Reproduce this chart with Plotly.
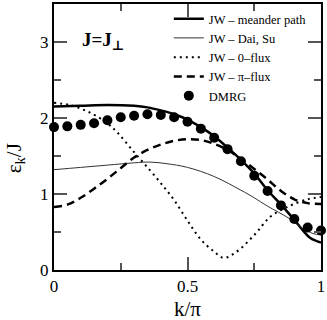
import plotly.graph_objects as go

# JW - meander path (thick solid)
k_meander = [0, 0.1, 0.2, 0.3, 0.35, 0.4, 0.45, 0.5, 0.55, 0.6, 0.65, 0.7,
             0.75, 0.8, 0.85, 0.9, 0.93, 0.96, 1.0]
e_meander = [2.15, 2.16, 2.17, 2.16, 2.14, 2.10, 2.05, 1.98, 1.88, 1.76, 1.61, 1.45,
             1.27, 1.05, 0.86, 0.66, 0.53, 0.42, 0.36]

# JW - Dai, Su (thin solid)
k_daisu = [0, 0.1, 0.2, 0.3, 0.36, 0.42, 0.5, 0.6, 0.7, 0.75, 0.8, 0.88, 0.93, 0.97, 1.0]
e_daisu = [1.32, 1.35, 1.38, 1.41, 1.42, 1.40, 1.35, 1.23, 1.05, 0.95, 0.84, 0.68, 0.55, 0.48, 0.46]

# JW - 0-flux (dotted)
k_zero = [0, 0.06, 0.135, 0.2, 0.24, 0.3, 0.36, 0.41, 0.45, 0.5, 0.55, 0.6, 0.635,
          0.68, 0.75, 0.81, 0.88, 0.95, 1.0]
e_zero = [2.20, 2.17, 2.07, 1.93, 1.80, 1.55, 1.31, 1.10, 0.92, 0.65, 0.40, 0.24, 0.16,
          0.23, 0.46, 0.70, 0.84, 0.93, 0.96]

# JW - pi-flux (dashed)
k_pi = [0, 0.05, 0.1, 0.15, 0.2, 0.25, 0.3, 0.35, 0.4, 0.45, 0.5, 0.55, 0.6, 0.65,
        0.7, 0.75, 0.8, 0.85, 0.9, 0.95, 1.0]
e_pi = [0.83, 0.86, 0.95, 1.07, 1.20, 1.34, 1.48, 1.58, 1.65, 1.70, 1.72, 1.71, 1.66, 1.58,
        1.46, 1.33, 1.19, 1.04, 0.93, 0.88, 0.87]

# DMRG points
k_dmrg = [0, 0.05, 0.1, 0.15, 0.2, 0.25, 0.3, 0.35, 0.4, 0.45, 0.5, 0.55, 0.6, 0.65,
          0.7, 0.75, 0.8, 0.85, 0.9, 0.95, 1.0]
e_dmrg = [1.88, 1.89, 1.91, 1.93, 1.97, 2.01, 2.03, 2.05, 2.04, 2.01, 1.95, 1.86, 1.74, 1.59,
          1.43, 1.24, 1.04, 0.85, 0.67, 0.56, 0.52]

FONT = 'Liberation Serif, DejaVu Serif, Times New Roman, serif'

fig = go.Figure()
fig.add_trace(go.Scatter(x=k_meander, y=e_meander, mode='lines', name='JW \u2013 meander path',
                         line=dict(color='black', width=2.5, shape='spline')))
fig.add_trace(go.Scatter(x=k_daisu, y=e_daisu, mode='lines', name='JW \u2013 Dai, Su',
                         line=dict(color='#333333', width=1, shape='spline')))
fig.add_trace(go.Scatter(x=k_zero, y=e_zero, mode='lines', name='JW \u2013 0\u2013flux',
                         line=dict(color='black', width=2, dash='2px,4px', shape='spline')))
fig.add_trace(go.Scatter(x=k_pi, y=e_pi, mode='lines', name='JW \u2013 \u03c0\u2013flux',
                         line=dict(color='black', width=2.5, dash='8px,5px', shape='spline')))
fig.add_trace(go.Scatter(x=k_dmrg, y=e_dmrg, mode='markers', name='DMRG',
                         marker=dict(color='black', size=10), cliponaxis=False))

axis_common = dict(
    showgrid=False, zeroline=False,
    showline=True, linecolor='black', linewidth=2, mirror='ticks',
    ticks='inside', ticklen=13, tickwidth=1.5, tickcolor='#555555',
    tickfont=dict(family=FONT, size=17, color='black'),
)

fig.update_xaxes(range=[0, 1], tickvals=[0, 0.5, 1], ticktext=['0', '0.5', '1'],
                 minor=dict(ticks='inside', ticklen=7, tickwidth=1.5, tickcolor='#555555',
                            tickvals=[0.25, 0.75]),
                 **axis_common)
fig.update_yaxes(range=[0, 3.5], tickvals=[0, 1, 2, 3],
                 minor=dict(ticks='inside', ticklen=7, tickwidth=1.5, tickcolor='#555555',
                            tickvals=[0.5, 1.5, 2.5]),
                 **axis_common)

fig.add_annotation(text='<b>J=J<sub>\u22a5</sub></b>', xref='paper', yref='paper',
                   x=0.097, y=0.862, xanchor='left', yanchor='middle', showarrow=False,
                   font=dict(family=FONT, size=19, color='black'))
fig.add_annotation(text='\u03b5<sub>k</sub>/J', xref='paper', yref='paper',
                   x=-0.146, y=0.42, xanchor='center', yanchor='middle', textangle=-90,
                   showarrow=False, font=dict(family=FONT, size=21, color='black'))
fig.add_annotation(text='k/\u03c0', xref='paper', yref='paper',
                   x=0.5, y=-0.145, xanchor='center', yanchor='middle',
                   showarrow=False, font=dict(family=FONT, size=21, color='black'))

fig.update_layout(
    width=327, height=320,
    margin=dict(l=54, r=5, t=2, b=50),
    paper_bgcolor='white', plot_bgcolor='white',
    showlegend=True,
    legend=dict(x=0.43, y=1.0, xanchor='left', yanchor='top',
                bgcolor='rgba(0,0,0,0)', font=dict(family=FONT, size=12.5, color='black'),
                tracegroupgap=0, itemwidth=30),
)

fig.write_html('out.html', config={'displayModeBar': False},
               post_script="document.body.style.margin='0';")
